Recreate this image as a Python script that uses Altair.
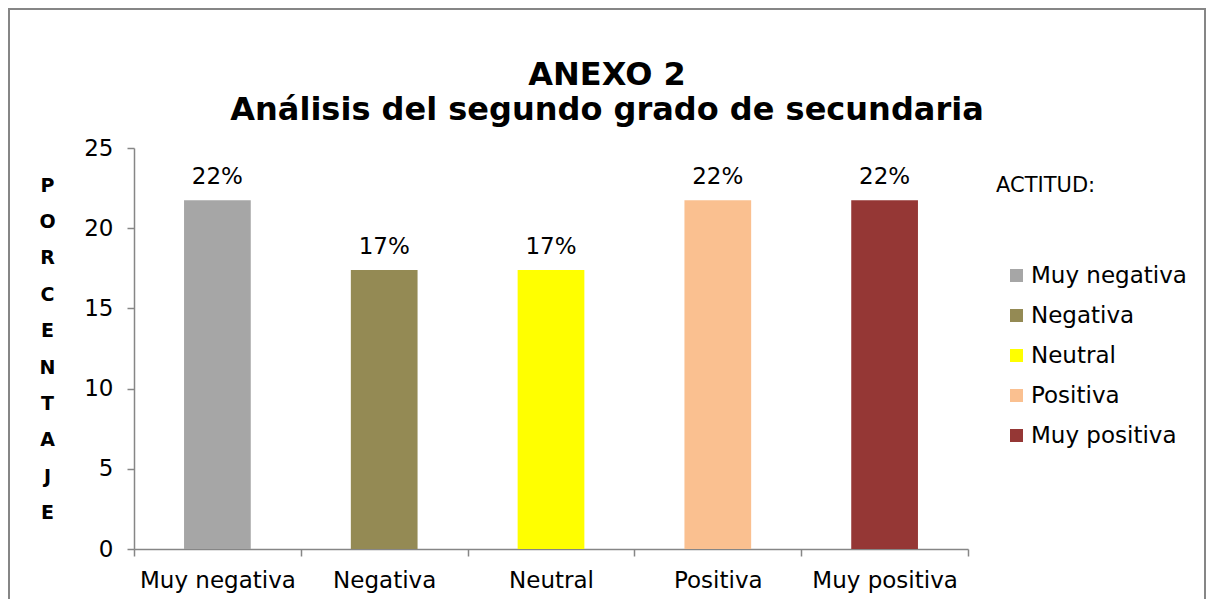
import altair as alt
import pandas as pd

categories = ["Muy negativa", "Negativa", "Neutral", "Positiva", "Muy positiva"]
values = [21.74, 17.39, 17.39, 21.74, 21.74]
labels = ["22%", "17%", "17%", "22%", "22%"]
colors = ["#A6A6A6", "#948A54", "#FFFF00", "#FAC090", "#953735"]
y_title_letters = ["P", "O", "R", "C", "E", "N", "T", "A", "J", "E"]
title_lines = ["ANEXO 2", "Análisis del segundo grado de secundaria"]

FONT = "DejaVu Sans"
GRAY = "#868686"

df = pd.DataFrame({"actitud": categories, "valor": values, "etiqueta": labels})

x_enc = alt.X(
    "actitud:N",
    sort=categories,
    scale=alt.Scale(paddingInner=0, paddingOuter=0),
    axis=alt.Axis(
        title=None,
        labelAngle=0,
        labelFont=FONT,
        labelFontSize=23,
        labelColor="#000000",
        labelPadding=13,
        tickBand="extent",
        tickSize=7,
        tickColor=GRAY,
        domainColor=GRAY,
        domainWidth=1.5,
        tickWidth=1.5,
    ),
)

y_enc = alt.Y(
    "valor:Q",
    scale=alt.Scale(domain=[0, 25], nice=False),
    axis=alt.Axis(
        values=[0, 5, 10, 15, 20, 25],
        grid=False,
        title=y_title_letters,
        titleAngle=0,
        titleAlign="center",
        titleBaseline="middle",
        titleFont=FONT,
        titleFontSize=19,
        titleFontWeight="bold",
        titleLineHeight=36.4,
        titleX=-87,
        titleY=37,
        titleColor="#000000",
        labelFont=FONT,
        labelFontSize=23,
        labelColor="#000000",
        labelPadding=14,
        tickSize=7,
        tickColor=GRAY,
        domainColor=GRAY,
        domainWidth=1.5,
        tickWidth=1.5,
    ),
)

bars = alt.Chart(df).mark_bar(width=alt.RelativeBandSize(0.4)).encode(
    x=x_enc,
    y=y_enc,
    color=alt.Color(
        "actitud:N",
        sort=categories,
        scale=alt.Scale(domain=categories, range=colors),
        legend=alt.Legend(
            title="ACTITUD:",
            orient="none",
            legendX=862,
            legendY=27,
            titleFont=FONT,
            titleFontSize=21,
            titleFontWeight="normal",
            titleColor="#000000",
            titlePadding=68,
            symbolType="square",
            symbolSize=169,
            symbolStrokeWidth=0,
            symbolOffset=9,
            labelFont=FONT,
            labelFontSize=23,
            labelColor="#000000",
            labelOffset=3,
            rowPadding=16,
        ),
    ),
)

text = alt.Chart(df).mark_text(
    font=FONT, fontSize=23, color="#000000", baseline="alphabetic", dy=-16
).encode(
    x=alt.X("actitud:N", sort=categories),
    y="valor:Q",
    text="etiqueta:N",
)

title_df = pd.DataFrame({"t": ["\n".join(title_lines)]})
title = alt.Chart(title_df).mark_text(
    font=FONT,
    fontSize=32,
    fontWeight="bold",
    color="#000000",
    align="center",
    baseline="alphabetic",
    lineBreak="\n",
    lineHeight=35,
).encode(
    x=alt.value(473),
    y=alt.value(-63),
    text="t:N",
)

border_df = pd.DataFrame({"b": [0]})
border = alt.Chart(border_df).mark_rect(
    fill=None, stroke=GRAY, strokeWidth=2
).encode(
    x=alt.value(-125),
    x2=alt.value(1071),
    y=alt.value(-139),
    y2=alt.value(520),
)

chart = alt.layer(border, bars, text, title).properties(
    width=834,
    height=401,
    background="white",
    autosize=alt.AutoSizeParams(type="none"),
    padding={"left": 126, "top": 140, "right": 238, "bottom": 50},
).configure_view(stroke="transparent", strokeWidth=0)

chart.save("out.html", embed_options={"renderer": "svg", "actions": False})
